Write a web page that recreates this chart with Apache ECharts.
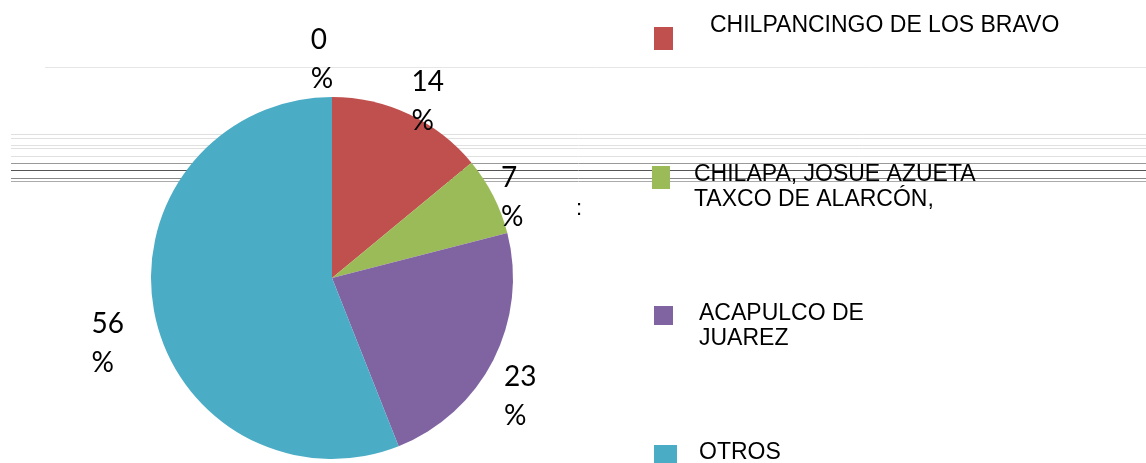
<!DOCTYPE html>
<html>
<head>
<meta charset="utf-8">
<script src="https://cdn.jsdelivr.net/npm/echarts@6/dist/echarts.min.js"></script>
<style>
  html, body { margin: 0; padding: 0; background: #fff; }
  #main { width: 1146px; height: 463px; }
</style>
</head>
<body>
<div id="main"></div>
<script>
// categorias y porcentajes
var categorias = ['', 'CHILPANCINGO DE LOS BRAVO', 'CHILAPA, JOSUE AZUETA\nTAXCO DE ALARCÓN,', 'ACAPULCO DE\nJUAREZ', 'OTROS'];
var valores = [0, 14, 7, 23, 56];
var colores = ['#4F81BD', '#C0504D', '#9BBB59', '#8064A2', '#4BACC6'];

var CX = 332, CY = 278, R = 181, LABEL_R = 218;
// pequeños ajustes de las etiquetas (como las coloca excel)
var ajusteEtiq = [[-10, -20], [3, 1], [-14, -1], [-6, 0], [-10, 5]];

var myChart = echarts.init(document.getElementById('main'));

var total = valores.reduce(function (a, b) { return a + b; }, 0);

// lineas horizontales del fondo
var lineas = [
    { y: 67, x1: 45, c: '#e6e6e6' },
    { y: 134, x1: 11, c: '#e0e0e0' },
    { y: 138, x1: 11, c: '#e0e0e0' },
    { y: 145, x1: 11, c: '#e0e0e0' },
    { y: 148, x1: 11, c: '#e0e0e0' },
    { y: 156, x1: 11, c: '#e0e0e0' },
    { y: 163, x1: 11, c: '#999999' },
    { y: 170, x1: 11, c: '#555555' },
    { y: 178, x1: 11, c: '#888888' },
    { y: 181, x1: 11, c: '#aaaaaa' }
];
var graficos = lineas.map(function (l) {
    return {
        type: 'line', z: 0, silent: true,
        shape: { x1: l.x1, y1: l.y + 0.5, x2: 1146, y2: l.y + 0.5 },
        style: { stroke: l.c, lineWidth: 1 }
    };
});
graficos.push({
    type: 'text', z: 1, x: 576, y: 209,
    style: { text: ':', fill: '#000', font: '22px "Liberation Sans", Arial', verticalAlign: 'middle' }
});

function leyenda(i, left, top, w, h, pad) {
    return {
        data: [categorias[i]],
        left: left, top: top,
        orient: 'vertical',
        padding: 0,
        icon: 'rect',
        itemWidth: w, itemHeight: h,
        selectedMode: false,
        textStyle: {
            fontFamily: '"Liberation Sans", Arial',
            fontSize: 23, lineHeight: 25, color: '#000',
            padding: pad,
            rich: { n: {} }   // fuerza el modo rich para que respete el padding vertical
        }
    };
}

var option = {
    animation: false,
    backgroundColor: '#fff',
    color: colores,
    graphic: graficos,
    legend: [
        leyenda(1, 654, 13.5, 19, 23, [0, 0, 25, 32]),
        leyenda(2, 652, 143, 18, 23, [19, 0, 0, 19]),
        leyenda(3, 654, 280, 19, 19, [21, 0, 0, 21]),
        leyenda(4, 654, 440, 23, 23, [0, 0, 8, 17])
    ],
    series: [{
        type: 'pie',
        center: [CX, CY],
        radius: R,
        startAngle: 90,
        clockwise: true,
        avoidLabelOverlap: false,
        emphasis: { disabled: true },
        itemStyle: { borderWidth: 0 },
        label: {
            show: true,
            position: 'outside',
            formatter: '{d}\n%',
            fontFamily: 'Lato, "Open Sans", sans-serif',
            fontSize: 28,
            lineHeight: 39,
            color: '#000'
        },
        labelLine: { show: false },
        labelLayout: function (p) {
            var i = p.dataIndex;
            var antes = 0;
            for (var k = 0; k < i; k++) antes += valores[k];
            var mid = (antes + valores[i] / 2) / total * Math.PI * 2;
            var x = CX + LABEL_R * Math.sin(mid);
            var y = CY - LABEL_R * Math.cos(mid);
            var a = ajusteEtiq[i] || [0, 0];
            return {
                x: x - p.labelRect.width / 2 + a[0],
                y: y - 19.5 + a[1],
                align: 'left',
                verticalAlign: 'top'
            };
        },
        data: categorias.map(function (c, i) {
            return { name: c, value: valores[i] };
        })
    }]
};

myChart.setOption(option);
</script>
</body>
</html>
